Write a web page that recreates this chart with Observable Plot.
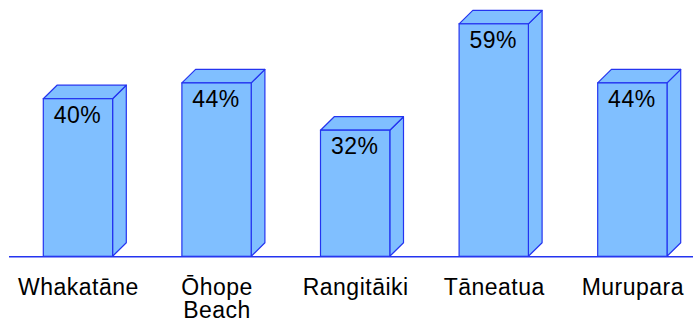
<!DOCTYPE html>
<html><head><meta charset="utf-8">
<script src="https://cdn.jsdelivr.net/npm/d3@7"></script>
<script src="https://cdn.jsdelivr.net/npm/@observablehq/plot@0.6"></script>
<style>body{margin:0;background:#fff} svg text{letter-spacing:0.5px}</style>
</head><body><div id="chart"></div>
<script>
const categories = ["Whakatāne", "Ōhope Beach", "Rangitāiki", "Tāneatua", "Murupara"];
const tickLabels = ["Whakatāne", "Ōhope\nBeach", "Rangitāiki", "Tāneatua", "Murupara"];
const values = [40, 44, 32, 59, 44];
const valueLabels = ["40%", "44%", "32%", "59%", "44%"];

const data = categories.map((c, i) => ({category: c, value: values[i], label: valueLabels[i], tick: tickLabels[i]}));

const FILL = "#80bfff", STROKE = "#2434f0", DX = 13.7, DY = 13.5;
const FONT = "'Liberation Sans', Arial, Helvetica, sans-serif";

function box3d(index, scales) {
  const x = scales.x, y = scales.y;
  const bw = x.bandwidth();
  const g = d3.create("svg:g").attr("fill", FILL).attr("stroke", STROKE).attr("stroke-width", 1.2).attr("stroke-linejoin", "round");
  for (const d of data) {
    const x1 = x(d.category), x2 = x1 + bw, yt = y(d.value), yb = y(0);
    const side = [[x2, yt], [x2 + DX, yt - DY], [x2 + DX, yb - DY], [x2, yb]];
    const top = [[x1, yt], [x1 + DX, yt - DY], [x2 + DX, yt - DY], [x2, yt]];
    g.append("polygon").attr("points", side.map(p => p.join(",")).join(" "));
    g.append("polygon").attr("points", top.map(p => p.join(",")).join(" "));
  }
  return g.node();
}

const chart = Plot.plot({
  width: 693,
  height: 322,
  marginLeft: 0, marginRight: 0, marginTop: 0, marginBottom: 0,
  style: {fontFamily: FONT, background: "#fff"},
  x: {type: "band", domain: categories, range: [8.65, 701.65], paddingInner: 0.5, paddingOuter: 0.25, round: false, axis: null},
  y: {domain: [0, 60], range: [256.3, 19.9], axis: null},
  marks: [
    Plot.ruleY([0], {stroke: STROKE, strokeWidth: 1.5, insetLeft: 9}),
    box3d,
    Plot.barY(data, {x: "category", y: "value", fill: FILL, stroke: STROKE, strokeWidth: 1.2}),
    Plot.text(data, {x: "category", y: "value", text: "label", lineAnchor: "bottom", dy: 23.5, dx: -1, fontSize: 23, fill: "black", fontFamily: FONT}),
    Plot.text(data, {x: "category", y: d => 0, text: "tick", lineAnchor: "top", dy: 21.9, lineHeight: 1.0, fontSize: 23, fill: "black", fontFamily: FONT})
  ]
});
document.getElementById("chart").appendChild(chart);
</script>
</body></html>
